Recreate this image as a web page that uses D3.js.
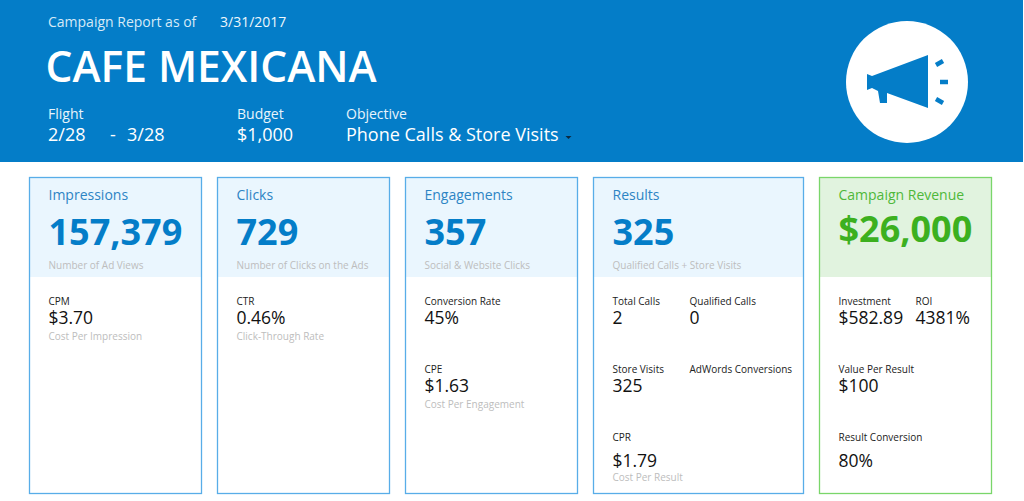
<!DOCTYPE html>
<html>
<head>
<meta charset="utf-8">
<script src="https://cdnjs.cloudflare.com/ajax/libs/d3/7.8.5/d3.min.js"></script>
<style>
html, body { margin: 0; padding: 0; background: #fff; overflow: hidden; }
svg { display: block; font-family: "Open Sans", sans-serif; }
</style>
</head>
<body>
<svg id="report" width="1024" height="501"></svg>
<script>
var BLUE = "#047dc8", GREEN = "#3cb01f", GREY = "#bdbdbd", INK = "#111";

var headerText = [
	{text: "Campaign Report as of", x: 48, y: 27, size: 14, fill: "#d6eaf7"},
	{text: "3/31/2017", x: 220, y: 27, size: 14, fill: "#eef7fc"},
	{text: "CAFE MEXICANA", x: 45.500, y: 82, size: 42.500, weight: 600, fill: "#fff"},
	{text: "Flight", x: 48, y: 119, size: 14, fill: "#e8f4fb"},
	{text: "2/28", x: 48, y: 141, size: 18, fill: "#fff"},
	{text: "-", x: 110, y: 141, size: 18, fill: "#fff"},
	{text: "3/28", x: 127, y: 141, size: 18, fill: "#fff"},
	{text: "Budget", x: 237, y: 119, size: 14, fill: "#e8f4fb"},
	{text: "$1,000", x: 237, y: 141, size: 18, fill: "#fff"},
	{text: "Objective", x: 346, y: 119, size: 14, fill: "#e8f4fb"},
	{text: "Phone Calls & Store Visits", x: 346, y: 141, size: 18, fill: "#fff"}
];

// rows sit at fixed baselines below the card heading
var cards = [
	{title: "Impressions", value: "157,379", note: "Number of Ad Views", x: 29, w: 172, metrics: [
		{label: "CPM", value: "$3.70", note: "Cost Per Impression", col: 0, y: 305}
	]},
	{title: "Clicks", value: "729", note: "Number of Clicks on the Ads", x: 217, w: 172, metrics: [
		{label: "CTR", value: "0.46%", note: "Click-Through Rate", col: 0, y: 305}
	]},
	{title: "Engagements", value: "357", note: "Social & Website Clicks", x: 405, w: 172, metrics: [
		{label: "Conversion Rate", value: "45%", col: 0, y: 305},
		{label: "CPE", value: "$1.63", note: "Cost Per Engagement", col: 0, y: 373}
	]},
	{title: "Results", value: "325", note: "Qualified Calls + Store Visits", x: 593, w: 210, metrics: [
		{label: "Total Calls", value: "2", col: 0, y: 305},
		{label: "Qualified Calls", value: "0", col: 77, y: 305},
		{label: "Store Visits", value: "325", col: 0, y: 373},
		{label: "AdWords Conversions", col: 77, y: 373},
		{label: "CPR", value: "$1.79", note: "Cost Per Result", col: 0, y: 441, gap: 26}
	]},
	{title: "Campaign Revenue", value: "$26,000", x: 819, w: 172, green: true, valueY: 242, metrics: [
		{label: "Investment", value: "$582.89", col: 0, y: 305},
		{label: "ROI", value: "4381%", col: 77, y: 305},
		{label: "Value Per Result", value: "$100", col: 0, y: 373},
		{label: "Result Conversion", value: "80%", col: 0, y: 441, gap: 26}
	]}
];

var megaphone = [[867,74],[872,76],[928,55],[928,108],[887,93],[887,103],[880,103],[878,91],[872,88],[867,90]];
var ticks = [[[936,65],[943,61]],[[940,82],[948,82]],[[936,99],[943,103]]];

var svg = d3.select("#report");

// banner
svg.append("rect").attr("width", 1023).attr("height", 162).attr("fill", BLUE);

svg.selectAll(".head")
	.data(headerText)
	.enter()
	.append("text")
	.attr("class", "head")
	.attr("x", function(d) { return d.x; })
	.attr("y", function(d) { return d.y; })
	.attr("font-size", function(d) { return d.size; })
	.attr("font-weight", function(d) { return d.weight || 400; })
	.attr("fill", function(d) { return d.fill; })
	.text(function(d) { return d.text; });

// dropdown caret next to objective
svg.append("path").attr("d", "M565.500 136h6l-3 3z").attr("fill", "#0d2a40");

svg.append("circle").attr("cx", 907).attr("cy", 82).attr("r", 61).attr("fill", "#fff");
svg.append("path").attr("d", d3.line()(megaphone) + "Z").attr("fill", BLUE);
svg.selectAll(".tick")
	.data(ticks)
	.enter()
	.append("path")
	.attr("class", "tick")
	.attr("d", d3.line())
	.attr("stroke", BLUE)
	.attr("stroke-width", 4.5)
	.attr("fill", "none");

// cards
var card = svg.selectAll(".card")
	.data(cards)
	.enter()
	.append("g")
	.attr("class", "card");

card.append("rect")
	.attr("x", function(d) { return d.x; })
	.attr("y", 177)
	.attr("width", function(d) { return d.w; })
	.attr("height", 100)
	.attr("fill", function(d) { return d.green ? "#e1f3df" : "#eaf6fe"; });

card.append("rect")
	.attr("x", function(d) { return d.x + 0.5; })
	.attr("y", 177.500)
	.attr("width", function(d) { return d.w; })
	.attr("height", 316)
	.attr("fill", "none")
	.attr("stroke", function(d) { return d.green ? "#7ad66a" : "#58ade8"; })
	.attr("stroke-width", 1.300);

card.append("text")
	.attr("x", function(d) { return d.x + 19.5; })
	.attr("y", 200)
	.attr("font-size", 14)
	.attr("fill", function(d) { return d.green ? "#4fb83a" : "#2d84c4"; })
	.text(function(d) { return d.title; });

card.append("text")
	.attr("x", function(d) { return d.x + 19.5; })
	.attr("y", function(d) { return d.valueY || 245; })
	.attr("font-size", 36)
	.attr("font-weight", 700)
	.attr("fill", function(d) { return d.green ? GREEN : BLUE; })
	.text(function(d) { return d.value; });

card.filter(function(d) { return d.note; })
	.append("text")
	.attr("x", function(d) { return d.x + 19.5; })
	.attr("y", 269)
	.attr("font-size", 10)
	.attr("fill", GREY)
	.text(function(d) { return d.note; });

var metric = card.selectAll(".metric")
	.data(function(d) { return d.metrics.map(function(m) { return Object.assign({left: d.x + 19.5 + m.col}, m); }); })
	.enter()
	.append("g")
	.attr("class", "metric");

metric.append("text")
	.attr("x", function(d) { return d.left; })
	.attr("y", function(d) { return d.y; })
	.attr("font-size", 10)
	.attr("fill", "#222")
	.text(function(d) { return d.label; });

metric.filter(function(d) { return d.value; })
	.append("text")
	.attr("x", function(d) { return d.left; })
	.attr("y", function(d) { return d.y + (d.gap || 19); })
	.attr("font-size", 17.500)
	.attr("fill", INK)
	.text(function(d) { return d.value; });

metric.filter(function(d) { return d.note; })
	.append("text")
	.attr("x", function(d) { return d.left; })
	.attr("y", function(d) { return d.y + (d.gap ? 40 : 35); })
	.attr("font-size", 10)
	.attr("fill", GREY)
	.text(function(d) { return d.note; });
</script>
</body>
</html>
